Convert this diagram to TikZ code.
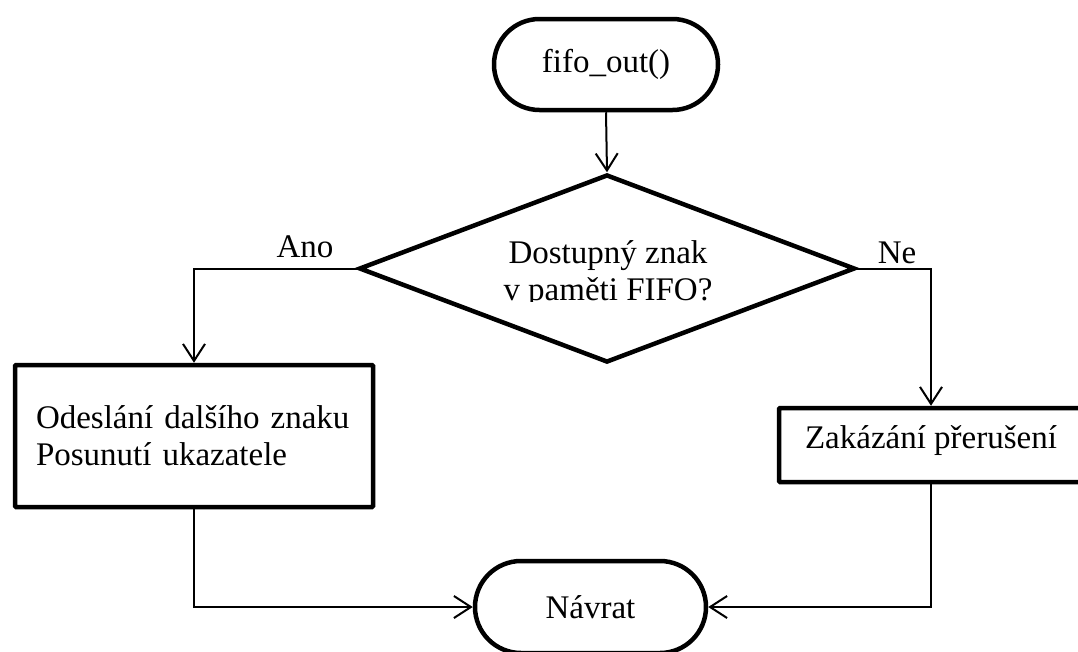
\documentclass[tikz,border=0pt]{standalone}
\usepackage{fontspec}
\setmainfont{Liberation Serif}
\usetikzlibrary{shapes.misc,shapes.geometric,arrows.meta}
\begin{document}
\begin{tikzpicture}[x=1pt,y=-1pt,
  txt/.style={font=\fontsize{33}{37}\selectfont},
  thickline/.style={line width=4.5pt},
  term/.style={rounded rectangle, draw, thickline, inner sep=0pt, txt},
  procbox/.style={rectangle, draw, thickline, rounded corners=1pt, inner sep=0pt, txt},
  decision/.style={diamond, draw, thickline, inner sep=0pt},
  conn/.style={line width=2pt, -{Straight Barb[length=17pt,width=22pt,line width=2pt]}},
  lbl/.style={txt, inner sep=0pt, anchor=base}
]
\useasboundingbox (0,0) rectangle (1078,651);
\clip (0,0) rectangle (1078,651);

\node[term, minimum width=224pt, minimum height=91pt] (start) at (606,64.5) {fifo\_out()};
\node[decision, minimum width=496pt, minimum height=188pt] (dec) at (607,268.5) {};
\begin{scope}
  \clip (420,200) rectangle (800,301.5);
  \node[txt, inner sep=0pt, anchor=north, align=center] (dectext) at (608,240.5) {Dostupný znak\\v paměti FIFO?};
\end{scope}

\node[procbox, minimum width=358pt, minimum height=142pt, text width=316pt, inner xsep=21pt, align=left] (box1) at (194,436) {Odeslání dalšího znaku\\Posunutí ukazatele};
\node[procbox, minimum width=304pt, minimum height=74pt, text height=22pt, text depth=16pt] (box2) at (931,445) {Zakázání přerušení};
\node[term, minimum width=231pt, minimum height=92pt] (end) at (590.5,607) {Návrat};

\node[lbl] (ano) at (305,257) {Ano};
\node[lbl] (ne) at (897,263) {Ne};

\draw[conn] (start.south) -- (dec.north);
\draw[conn] (dec.west) -| (box1.north);
\draw[conn] (dec.east) -| (box2.north);
\draw[conn] (box1.south) |- (end.west);
\draw[conn] (box2.south) |- (end.east);
\end{tikzpicture}
\end{document}
